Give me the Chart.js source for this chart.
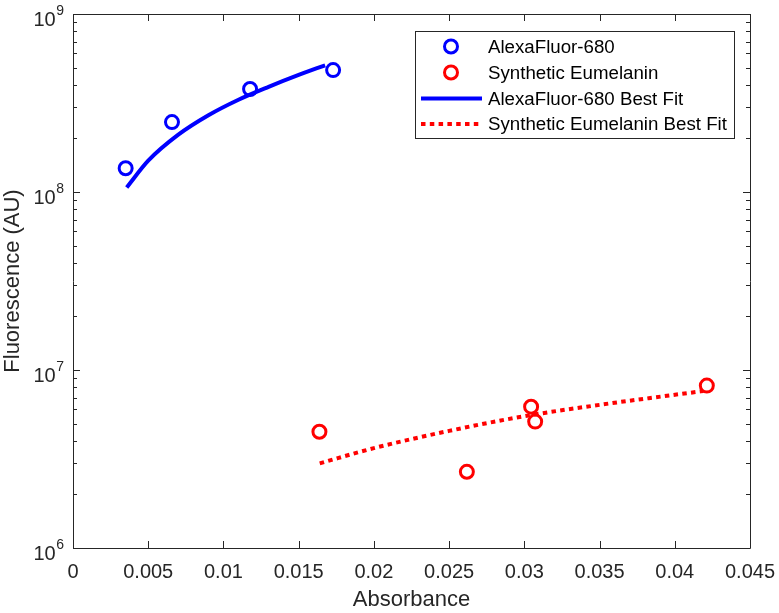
<!DOCTYPE html>
<html>
<head>
<meta charset="utf-8">
<script src="https://cdn.jsdelivr.net/npm/chart.js@4/dist/chart.umd.min.js"></script>
<style>
  body { margin: 0; background: #fff; }
  #wrap { width: 779px; height: 613px; }
</style>
</head>
<body>
<div id="wrap"><canvas id="fluo" width="779" height="613"></canvas></div>
<script>
// measured points (absorbance, fluorescence)
const alexaX = [0.0035, 0.00658, 0.01177, 0.01729];
const alexaY = [1.36e8, 2.47e8, 3.79e8, 4.84e8];
const melaninX = [0.01638, 0.02618, 0.03045, 0.03072, 0.04213];
const melaninY = [4.50e6, 2.68e6, 6.22e6, 5.13e6, 8.17e6];

// best fit curves
const alexaFitX = [0.00357, 0.005, 0.007, 0.009, 0.011, 0.013, 0.015, 0.01676];
const alexaFitY = [1.06e8, 1.50e8, 2.10e8, 2.70e8, 3.30e8, 3.90e8, 4.55e8, 5.15e8];
const melaninFitX = [0.0164, 0.020, 0.025, 0.030, 0.035, 0.0419];
const melaninFitY = [2.99e6, 3.64e6, 4.55e6, 5.50e6, 6.37e6, 7.62e6];

const xTicks = [0, 0.005, 0.01, 0.015, 0.02, 0.025, 0.03, 0.035, 0.04, 0.045];
const xTickLabels = ["0", "0.005", "0.01", "0.015", "0.02", "0.025", "0.03", "0.035", "0.04", "0.045"];
const yMajor = [1e6, 1e7, 1e8, 1e9];
const yExponents = ["6", "7", "8", "9"];

const legendNames = ["AlexaFluor-680", "Synthetic Eumelanin", "AlexaFluor-680 Best Fit", "Synthetic Eumelanin Best Fit"];

const INK = "#262626";
const FONT = "'Liberation Sans', Arial, Helvetica, sans-serif";

function pts(xs, ys) {
  return xs.map((x, i) => ({ x: x, y: ys[i] }));
}

// draws the matlab style box, inward ticks, y labels and the legend
const axesBox = {
  id: "axesBox",
  afterDraw(chart) {
    const ctx = chart.ctx;
    const a = chart.chartArea;
    const xs = chart.scales.x, ys = chart.scales.y;
    ctx.save();
    ctx.strokeStyle = INK;
    ctx.lineWidth = 1;
    ctx.beginPath();
    ctx.rect(a.left + 0.5, a.top + 0.5, a.right - a.left, a.bottom - a.top);
    ctx.stroke();

    ctx.beginPath();
    xTicks.forEach(v => {
      const px = Math.round(xs.getPixelForValue(v)) + 0.5;
      ctx.moveTo(px, a.bottom); ctx.lineTo(px, a.bottom - 7);
      ctx.moveTo(px, a.top); ctx.lineTo(px, a.top + 7);
    });
    for (let d = 0; d < yMajor.length; d++) {
      for (let m = 1; m <= 9; m++) {
        const v = yMajor[d] * m;
        if (v > 1e9) break;
        const py = Math.round(ys.getPixelForValue(v)) + 0.5;
        const len = m === 1 ? 7 : 4;
        ctx.moveTo(a.left, py); ctx.lineTo(a.left + len, py);
        ctx.moveTo(a.right, py); ctx.lineTo(a.right - len, py);
      }
    }
    ctx.stroke();

    // y tick labels 10^n
    ctx.fillStyle = INK;
    ctx.textBaseline = "alphabetic";
    yMajor.forEach((v, i) => {
      const py = ys.getPixelForValue(v);
      ctx.font = "14px " + FONT;
      ctx.textAlign = "right";
      ctx.fillText(yExponents[i], 64, py + 1);
      const w = ctx.measureText(yExponents[i]).width;
      ctx.font = "20px " + FONT;
      ctx.fillText("10", 64 - w - 0.5, py + 12);
    });

    // legend
    const L = { x: 415, y: 31, w: 319, h: 107 };
    ctx.fillStyle = "#fff";
    ctx.fillRect(L.x, L.y, L.w, L.h);
    ctx.strokeStyle = INK;
    ctx.lineWidth = 1;
    ctx.strokeRect(L.x + 0.5, L.y + 0.5, L.w, L.h);
    const rows = [46.5, 72.5, 98.5, 124];
    ctx.font = "18.7px " + FONT;
    ctx.textAlign = "left";
    ctx.textBaseline = "middle";
    chart.data.datasets.forEach((ds, i) => {
      const y = rows[i];
      if (ds.showLine) {
        ctx.strokeStyle = ds.borderColor;
        ctx.lineWidth = ds.borderWidth;
        ctx.setLineDash(ds.borderDash || []);
        ctx.beginPath();
        ctx.moveTo(421, y); ctx.lineTo(482, y);
        ctx.stroke();
        ctx.setLineDash([]);
      } else {
        ctx.strokeStyle = ds.pointBorderColor;
        ctx.lineWidth = ds.pointBorderWidth;
        ctx.beginPath();
        ctx.arc(451, y, ds.pointRadius, 0, Math.PI * 2);
        ctx.stroke();
      }
      ctx.fillStyle = "#000";
      ctx.fillText(legendNames[i], 488, y + 1);
    });
    ctx.restore();
  }
};

new Chart(document.getElementById("fluo"), {
  type: "scatter",
  data: {
    datasets: [
      { label: legendNames[0], data: pts(alexaX, alexaY), showLine: false,
        pointRadius: 6.5, pointBorderWidth: 3, pointBorderColor: "#0000ff", pointBackgroundColor: "rgba(0,0,0,0)", order: 2 },
      { label: legendNames[1], data: pts(melaninX, melaninY), showLine: false,
        pointRadius: 6.5, pointBorderWidth: 3, pointBorderColor: "#ff0000", pointBackgroundColor: "rgba(0,0,0,0)", order: 2 },
      { label: legendNames[2], data: pts(alexaFitX, alexaFitY), showLine: true, pointRadius: 0,
        borderColor: "#0000ff", borderWidth: 4, cubicInterpolationMode: "monotone", fill: false, order: 1 },
      { label: legendNames[3], data: pts(melaninFitX, melaninFitY), showLine: true, pointRadius: 0,
        borderColor: "#ff0000", borderWidth: 4, borderDash: [4.5, 4.3], borderCapStyle: "butt",
        cubicInterpolationMode: "monotone", fill: false, order: 1 }
    ]
  },
  options: {
    responsive: false,
    animation: false,
    devicePixelRatio: 1,
    layout: { padding: { top: 14, right: 29, left: 0, bottom: 0 } },
    plugins: { legend: { display: false }, tooltip: { enabled: false } },
    scales: {
      x: {
        type: "linear", min: 0, max: 0.045,
        afterBuildTicks: s => { s.ticks = xTicks.map(v => ({ value: v })); },
        afterFit: s => { s.height = 65; s.paddingLeft = 0; s.paddingRight = 0; },
        grid: { display: false, drawTicks: false },
        border: { display: false },
        ticks: {
          color: INK, padding: 12, maxRotation: 0, autoSkip: false,
          font: { family: FONT, size: 20 },
          callback: (v, i) => xTickLabels[i]
        },
        title: { display: true, text: "Absorbance", color: INK,
          font: { family: FONT, size: 22 }, padding: { top: 0, bottom: 0 } }
      },
      y: {
        type: "logarithmic", min: 1e6, max: 1e9,
        afterFit: s => { s.width = 73; s.paddingTop = 0; s.paddingBottom = 0; },
        grid: { display: false, drawTicks: false },
        border: { display: false },
        ticks: { display: false },
        title: { display: true, text: "Fluorescence (AU)", color: INK,
          font: { family: FONT, size: 22 }, padding: { top: 0, bottom: 0 } }
      }
    }
  },
  plugins: [axesBox]
});
</script>
</body>
</html>
